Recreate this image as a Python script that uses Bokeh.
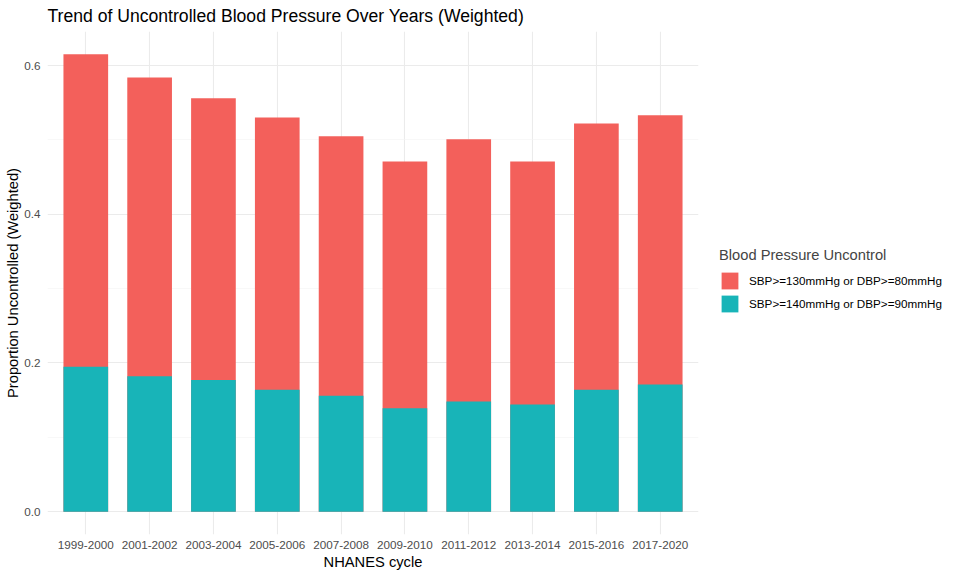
from bokeh.plotting import figure
from bokeh.models import ColumnDataSource, FactorRange, Range1d, FixedTicker, PrintfTickFormatter, Legend
from bokeh.embed import file_html
from bokeh.resources import INLINE

cycles = ["1999-2000", "2001-2002", "2003-2004", "2005-2006", "2007-2008",
          "2009-2010", "2011-2012", "2013-2014", "2015-2016", "2017-2020"]
# proportion uncontrolled, SBP>=130 or DBP>=80
uncontrol_130_80 = [0.615, 0.584, 0.556, 0.530, 0.505, 0.471, 0.501, 0.471, 0.522, 0.533]
# proportion uncontrolled, SBP>=140 or DBP>=90
uncontrol_140_90 = [0.195, 0.182, 0.177, 0.164, 0.156, 0.139, 0.148, 0.144, 0.164, 0.171]

label_130 = "SBP>=130mmHg or DBP>=80mmHg"
label_140 = "SBP>=140mmHg or DBP>=90mmHg"

FONT = "Liberation Sans"

src = ColumnDataSource(data=dict(cycle=cycles, hi=uncontrol_130_80, lo=uncontrol_140_90))

top = max(uncontrol_130_80)
p = figure(
    frame_width=651,
    frame_height=503,
    x_range=FactorRange(factors=cycles, range_padding=0.1, range_padding_units="absolute"),
    y_range=Range1d(-0.05 * top, 1.05 * top),
    min_border_left=40,
    min_border_top=24,
    min_border_bottom=32,
    min_border_right=253,
    toolbar_location=None,
    output_backend="svg",
    title="Trend of Uncontrolled Blood Pressure Over Years (Weighted)",
    x_axis_label="NHANES cycle",
    y_axis_label="Proportion Uncontrolled (Weighted)",
)
p.margin = (1, 0, 0, 2)

r1 = p.vbar(x="cycle", top="hi", bottom=0, width=0.7, source=src,
            fill_color="#F3605B", line_color=None)
r2 = p.vbar(x="cycle", top="lo", bottom=0, width=0.7, source=src,
            fill_color="#18B4B8", line_color=None)

p.title.text_font = FONT
p.title.text_font_size = "17.6px"
p.title.text_font_style = "normal"
p.title.text_color = "black"
p.title.offset = 0
p.title.standoff = 8
p.title.vertical_align = "top"

p.outline_line_color = None
p.background_fill_color = "white"
p.border_fill_color = "white"

p.yaxis.ticker = FixedTicker(ticks=[0.0, 0.2, 0.4, 0.6], minor_ticks=[0.1, 0.3, 0.5])
p.yaxis.formatter = PrintfTickFormatter(format="%.1f")

for ax in (p.xaxis, p.yaxis):
    ax.axis_line_color = None
    ax.major_tick_line_color = None
    ax.minor_tick_line_color = None
    ax.major_tick_out = 0
    ax.major_tick_in = 0
    ax.major_label_text_font = FONT
    ax.major_label_text_font_size = "11.7px"
    ax.major_label_text_color = "#4D4D4D"
    ax.axis_label_text_font = FONT
    ax.axis_label_text_font_size = "14.7px"
    ax.axis_label_text_font_style = "normal"
    ax.axis_label_text_color = "black"

p.yaxis.major_label_standoff = 3
p.yaxis.axis_label_standoff = 0
p.xaxis.major_label_standoff = 6
p.xaxis.axis_label_standoff = 2

p.xgrid.grid_line_color = "#EBEBEB"
p.xgrid.grid_line_width = 1.1
p.ygrid.grid_line_color = "#EBEBEB"
p.ygrid.grid_line_width = 1.1
p.ygrid.minor_grid_line_color = "#F4F4F4"
p.ygrid.minor_grid_line_width = 0.6

legend = Legend(items=[(label_130, [r1]), (label_140, [r2])],
                title="Blood Pressure Uncontrol",
                location=(21, 220))
legend.title_text_font = FONT
legend.title_text_font_size = "14.7px"
legend.title_text_font_style = "normal"
legend.title_standoff = 7
legend.label_text_font = FONT
legend.label_text_font_size = "11.7px"
legend.label_text_color = "black"
legend.glyph_width = 21
legend.glyph_height = 21
legend.label_standoff = 9
legend.spacing = 2
legend.padding = 0
legend.margin = 0
legend.border_line_color = None
legend.background_fill_alpha = 0
p.add_layout(legend, "right")

open("out.html", "w").write(file_html(p, INLINE))
